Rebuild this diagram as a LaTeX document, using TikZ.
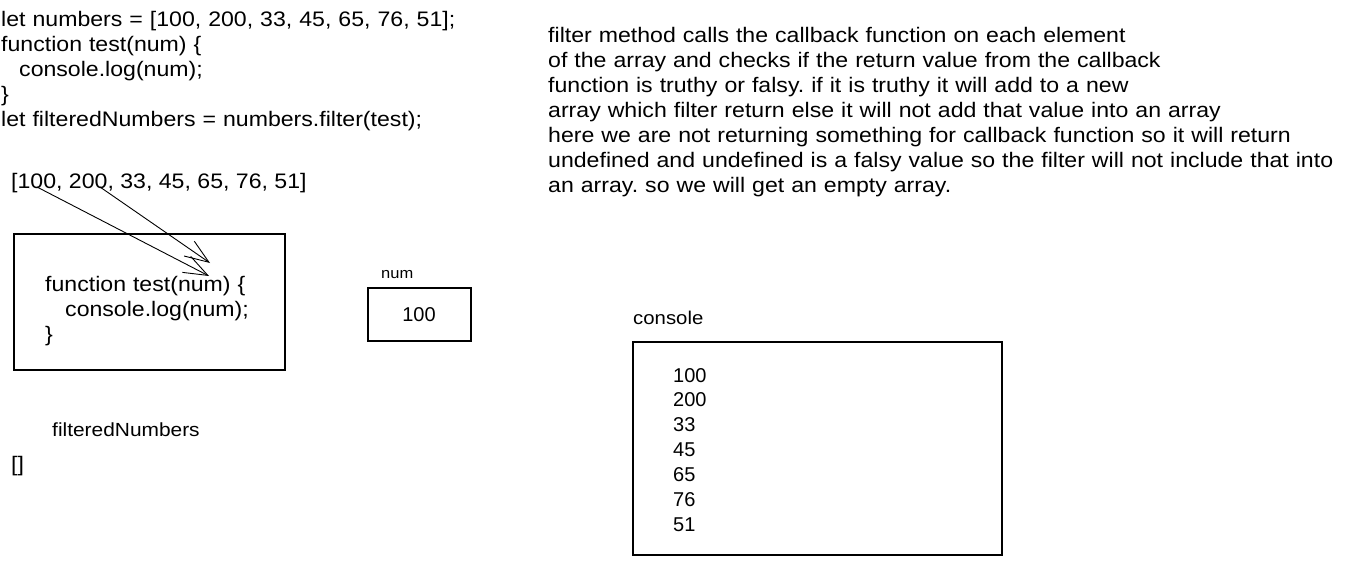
\documentclass[tikz,border=0pt]{standalone}
\usepackage{fontspec}
\setmainfont{Liberation Sans}[FakeStretch=1.1]
\newfontfamily\digitfont{Liberation Sans}
\usetikzlibrary{arrows.meta}
\frenchspacing
\tikzset{
  txt/.style={anchor=base west, inner sep=0pt, font=\fontsize{21}{25}\selectfont, align=left},
  dig/.style={anchor=base west, inner sep=0pt, font=\digitfont\fontsize{20}{25}\selectfont},
  sm/.style={anchor=base west, inner sep=0pt, font=\fontsize{15}{20}\selectfont},
  sketchbox/.style={draw=black, line width=1.1pt},
  arr/.style={draw=black, line width=0.9pt, -{Straight Barb[length=24pt,width=18pt,line width=0.9pt]}}
}
\begin{document}
\begin{tikzpicture}[x=1pt,y=-1pt]
\useasboundingbox (0,0) rectangle (1356,564);
\fill[white] (0,0) rectangle (1356,564);
% code
\node[txt, text width=560pt] (code) at (1,27) {let numbers = [100, 200, 33, 45, 65, 76, 51];\\
function test(num) \{\\
\hspace*{18pt}console.log(num);\\
\}\\
let filteredNumbers = numbers.filter(test);};
% explanation
\node[txt, text width=850pt] (expl) at (548,43) {filter method calls the callback function on each element\\
of the array and checks if the return value from the callback\\
function is truthy or falsy. if it is truthy it will add to a new\\
array which filter return else it will not add that value into an array\\
here we are not returning something for callback function so it will return\\
undefined and undefined is a falsy value so the filter will not include that into\\
an array. so we will get an empty array.};
% array
\node[txt] (arr) at (11,189) {[100, 200, 33, 45, 65, 76, 51]};
\coordinate (s1) at (37,187);
\coordinate (s2) at (100,187);
\coordinate (t1) at (209,276);
\coordinate (t2) at (210,263);
% function box
\draw[sketchbox] (14,234) rectangle (285,370);
\node[txt, text width=260pt] (fn) at (45,291) {function test(num) \{\\
\hspace*{20pt}console.log(num);\\
\}};
\draw[arr] (s1) -- (t1);
\draw[arr] (s2) -- (t2);
% num box
\node[sm] (numlbl) at (381,278) {num};
\draw[sketchbox] (368,288) rectangle (471,341);
\node[dig, anchor=base] (numval) at (419,321) {100};
% filtered
\node[txt, font=\fontsize{19}{25}\selectfont] (fl) at (52,436) {filteredNumbers};
\node[txt] (empty) at (11,471) {[]};
% console
\node[txt, font=\fontsize{18.5}{25}\selectfont] (conlbl) at (633,324) {console};
\draw[sketchbox] (633,342) rectangle (1002,555);
\node[dig] (c1) at (673,382) {100};
\node[dig] (c2) at (673,406) {200};
\node[dig] (c3) at (673,431) {33};
\node[dig] (c4) at (673,456) {45};
\node[dig] (c5) at (673,481) {65};
\node[dig] (c6) at (673,506) {76};
\node[dig] (c7) at (673,531) {51};
\end{tikzpicture}
\end{document}
